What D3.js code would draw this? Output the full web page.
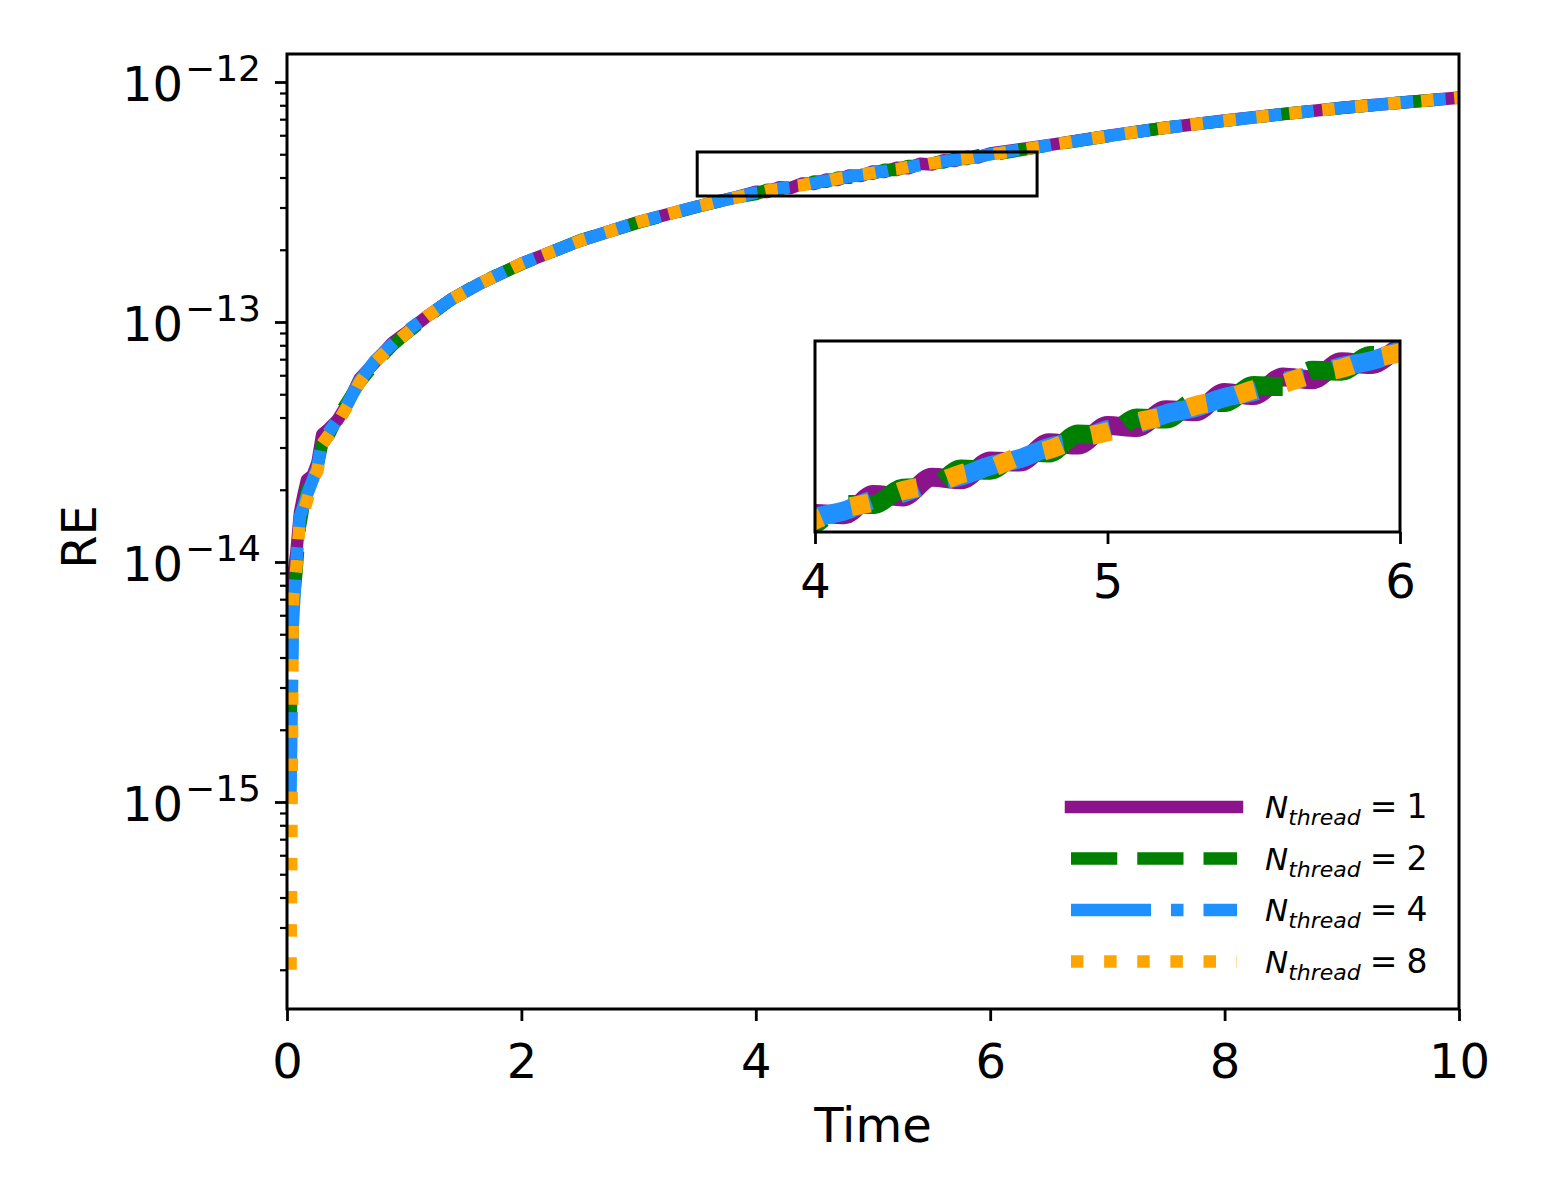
<!DOCTYPE html>
<html>
<head>
<meta charset="utf-8">
<script src="https://cdn.jsdelivr.net/npm/d3@7"></script>
<style>
  body { margin: 0; background: white; }
  svg { font-family: "DejaVu Sans", sans-serif; }
</style>
</head>
<body>
<div id="chart"></div>
<script>
// data (RE in units of 1e-13)
var time = [0.03, 0.05, 0.08, 0.11, 0.14, 0.17, 0.22, 0.26, 0.3, 0.36,
  0.43, 0.52, 0.62, 0.75, 0.9, 1.0, 1.2, 1.4, 1.65, 2.0,
  2.5, 3.0, 3.5, 3.8,
  4.0, 4.1, 4.2, 4.3, 4.4, 4.5, 4.6, 4.7, 4.8, 4.9,
  5.0, 5.1, 5.2, 5.3, 5.4, 5.5, 5.6, 5.7, 5.8, 5.9, 6.0,
  6.5, 7.0, 7.5, 8.0, 8.5, 9.0, 9.5, 10.0];

var re1 = [0.05, 0.085, 0.11, 0.16, 0.19, 0.22, 0.23, 0.26, 0.34, 0.36,
  0.39, 0.46, 0.58, 0.68, 0.82, 0.89, 1.06, 1.24, 1.45, 1.75,
  2.18, 2.61, 3.03, 3.28,
  3.49, 3.48, 3.64, 3.62, 3.78, 3.76, 3.92, 3.91, 4.08, 4.06,
  4.24, 4.22, 4.39, 4.37, 4.56, 4.53, 4.72, 4.69, 4.88, 4.85, 5.04,
  5.46, 5.96, 6.45, 6.91, 7.35, 7.81, 8.20, 8.61];

var re2 = [0.02, 0.065, 0.09, 0.14, 0.17, 0.20, 0.23, 0.25, 0.31, 0.34,
  0.40, 0.47, 0.56, 0.67, 0.80, 0.88, 1.05, 1.24, 1.46, 1.74,
  2.19, 2.60, 3.02, 3.29,
  3.41, 3.56, 3.56, 3.69, 3.70, 3.85, 3.84, 4.00, 3.99, 4.16,
  4.15, 4.31, 4.30, 4.47, 4.46, 4.63, 4.62, 4.79, 4.78, 4.95, 4.95,
  5.44, 5.94, 6.46, 6.89, 7.36, 7.79, 8.21, 8.59];

var re4 = [0.011, 0.055, 0.10, 0.155, 0.17, 0.19, 0.22, 0.25, 0.32, 0.35,
  0.39, 0.46, 0.57, 0.69, 0.81, 0.90, 1.06, 1.24, 1.45, 1.75,
  2.18, 2.61, 3.03, 3.28,
  3.46, 3.51, 3.60, 3.65, 3.74, 3.79, 3.88, 3.94, 4.04, 4.10,
  4.20, 4.25, 4.35, 4.41, 4.51, 4.57, 4.67, 4.73, 4.83, 4.89, 5.00,
  5.45, 5.95, 6.45, 6.90, 7.35, 7.80, 8.20, 8.60];

var re8 = [0.002, 0.07, 0.095, 0.15, 0.16, 0.18, 0.22, 0.24, 0.31, 0.34,
  0.38, 0.45, 0.56, 0.68, 0.80, 0.88, 1.06, 1.24, 1.45, 1.75,
  2.18, 2.61, 3.03, 3.28,
  3.44, 3.53, 3.58, 3.67, 3.72, 3.81, 3.86, 3.96, 4.02, 4.12,
  4.18, 4.27, 4.33, 4.43, 4.49, 4.59, 4.65, 4.75, 4.81, 4.91, 4.98,
  5.45, 5.95, 6.45, 6.90, 7.35, 7.80, 8.20, 8.60];

var threads = [1, 2, 4, 8];
var colors = ["#8b138b", "#008000", "#1e90ff", "#ffa500"];
// dash patterns in units of line width (matplotlib '-', '--', '-.', ':')
var dashUnits = [null, [3.7, 1.6], [6.4, 1.6, 1, 1.6], [1, 1.65]];
var xTicks = [0, 2, 4, 6, 8, 10];
var yMajor = [1e-12, 1e-13, 1e-14, 1e-15];
var yExp = [-12, -13, -14, -15];
var insetTicks = [4, 5, 6];
var boxTime = [3.5, 6.4];
var boxRE = [3.35e-13, 5.11e-13];

var series = [re1, re2, re4, re8].map(function(vals, i) {
  return {
    n: threads[i],
    color: colors[i],
    dash: dashUnits[i],
    pts: time.map(function(t, j) { return { t: t, v: vals[j] * 1e-13 }; })
  };
});

function dashFor(s, w) {
  if (!s.dash) return "none";
  return s.dash.map(function(d) { return d * w; }).join(",");
}

var lw = 12.5;
var ilw = 19;

var svg = d3.select("#chart").append("svg")
  .attr("width", 1545)
  .attr("height", 1200);

var pL = 287, pR = 1459, pT = 54, pB = 1009;

var x = d3.scaleLinear().domain([0, 10]).range([pL, pR]);
var y = d3.scaleLog().domain([Math.pow(10, -15.8625), Math.pow(10, -11.8833)]).range([pB, pT]);

svg.append("clipPath").attr("id", "mainClip")
  .append("rect")
  .attr("x", pL).attr("y", pT)
  .attr("width", pR - pL).attr("height", pB - pT);

var line = d3.line()
  .x(function(d) { return x(d.t); })
  .y(function(d) { return y(d.v); });

var main = svg.append("g").attr("clip-path", "url(#mainClip)");

series.forEach(function(s) {
  main.append("path")
    .datum(s.pts)
    .attr("d", line)
    .style("fill", "none")
    .style("stroke", s.color)
    .style("stroke-width", lw)
    .style("stroke-dasharray", dashFor(s, lw))
    .style("stroke-linecap", s.dash ? "butt" : "square")
    .style("stroke-linejoin", "round");
});

// zoom box
svg.append("rect")
  .attr("x", x(boxTime[0]))
  .attr("y", y(boxRE[1]))
  .attr("width", x(boxTime[1]) - x(boxTime[0]))
  .attr("height", y(boxRE[0]) - y(boxRE[1]))
  .style("fill", "none")
  .style("stroke", "black")
  .style("stroke-width", 3);

// x axis
var xAxis = svg.append("g")
  .attr("transform", "translate(0," + pB + ")")
  .call(d3.axisBottom(x).tickValues(xTicks).tickSize(12).tickFormat(d3.format("d")));
xAxis.select(".domain").remove();
xAxis.selectAll("line").style("stroke", "black").style("stroke-width", 2.8);
xAxis.selectAll("text")
  .attr("y", 69)
  .attr("dy", null)
  .style("font-family", "DejaVu Sans")
  .style("font-size", "48px")
  .style("fill", "black");

// y axis minor ticks
var yMinor = [];
for (var e = -16; e <= -13; e++) {
  for (var k = 2; k <= 9; k++) {
    var v = k * Math.pow(10, e);
    if (v > y.domain()[0] && v < y.domain()[1]) yMinor.push(v);
  }
}
var yMin = svg.append("g")
  .attr("transform", "translate(" + pL + ",0)")
  .call(d3.axisLeft(y).tickValues(yMinor).tickSize(7).tickFormat(""));
yMin.select(".domain").remove();
yMin.selectAll("line").style("stroke", "black").style("stroke-width", 2.2);

var yAxis = svg.append("g")
  .attr("transform", "translate(" + pL + ",0)")
  .call(d3.axisLeft(y).tickValues(yMajor).tickSize(12).tickFormat(""));
yAxis.select(".domain").remove();
yAxis.selectAll("line").style("stroke", "black").style("stroke-width", 2.8);

yMajor.forEach(function(v, i) {
  var t = svg.append("text")
    .attr("x", 261)
    .attr("y", y(v) + 19)
    .style("text-anchor", "end")
    .style("font-size", "48px")
    .style("fill", "black");
  t.append("tspan").text("10");
  t.append("tspan")
    .attr("dy", -20)
    .attr("dx", 2)
    .style("font-size", "36px")
    .text("\u2212" + String(-yExp[i]));
});

// frame
svg.append("rect")
  .attr("x", pL).attr("y", pT)
  .attr("width", pR - pL).attr("height", pB - pT)
  .style("fill", "none")
  .style("stroke", "black")
  .style("stroke-width", 3);

// axis labels
svg.append("text")
  .attr("x", (pL + pR) / 2)
  .attr("y", 1142)
  .style("text-anchor", "middle")
  .style("font-size", "48px")
  .text("Time");

svg.append("text")
  .attr("transform", "translate(96,537) rotate(-90)")
  .style("text-anchor", "middle")
  .style("font-size", "48px")
  .text("RE");

// inset
var iL = 815, iR = 1400, iT = 341, iB = 532;
var xi = d3.scaleLinear().domain([insetTicks[0], insetTicks[insetTicks.length - 1]]).range([iL, iR]);
var yi = d3.scaleLog().domain(boxRE).range([iB, iT]);

svg.append("rect")
  .attr("x", iL).attr("y", iT)
  .attr("width", iR - iL).attr("height", iB - iT)
  .style("fill", "white");

svg.append("clipPath").attr("id", "insetClip")
  .append("rect")
  .attr("x", iL).attr("y", iT)
  .attr("width", iR - iL).attr("height", iB - iT);

var iline = d3.line()
  .curve(d3.curveMonotoneX)
  .x(function(d) { return xi(d.t); })
  .y(function(d) { return yi(d.v); });

var inset = svg.append("g").attr("clip-path", "url(#insetClip)");
series.forEach(function(s) {
  inset.append("path")
    .datum(s.pts.filter(function(d) { return d.t >= 3.8 && d.t <= 6.5; }))
    .attr("d", iline)
    .style("fill", "none")
    .style("stroke", s.color)
    .style("stroke-width", ilw)
    .style("stroke-dasharray", dashFor(s, ilw))
    .style("stroke-linecap", s.dash ? "butt" : "square")
    .style("stroke-linejoin", "round");
});

var xiAxis = svg.append("g")
  .attr("transform", "translate(0," + iB + ")")
  .call(d3.axisBottom(xi).tickValues(insetTicks).tickSize(12).tickFormat(d3.format("d")));
xiAxis.select(".domain").remove();
xiAxis.selectAll("line").style("stroke", "black").style("stroke-width", 2.8);
xiAxis.selectAll("text")
  .attr("y", 66)
  .attr("dy", null)
  .style("font-family", "DejaVu Sans")
  .style("font-size", "48px")
  .style("fill", "black");

svg.append("rect")
  .attr("x", iL).attr("y", iT)
  .attr("width", iR - iL).attr("height", iB - iT)
  .style("fill", "none")
  .style("stroke", "black")
  .style("stroke-width", 3);

// legend
var legend = svg.append("g");
series.forEach(function(s, i) {
  var ly = 807 + i * 51.5;
  legend.append("line")
    .attr("x1", 1071).attr("x2", 1237)
    .attr("y1", ly).attr("y2", ly)
    .style("stroke", s.color)
    .style("stroke-width", lw)
    .style("stroke-dasharray", dashFor(s, lw))
    .style("stroke-linecap", s.dash ? "butt" : "square");

  var t = legend.append("text")
    .attr("x", 1265)
    .attr("y", ly + 11)
    .style("font-size", "31px")
    .style("fill", "black");
  t.append("tspan").style("font-style", "italic").text("N");
  t.append("tspan").attr("dy", 7).style("font-style", "italic").style("font-size", "22px").text("thread");
  t.append("tspan").attr("dy", -7).attr("dx", 9).style("font-size", "33px").text("=");
  t.append("tspan").attr("dx", 9).style("font-size", "33px").text(String(s.n));
});
</script>
</body>
</html>
